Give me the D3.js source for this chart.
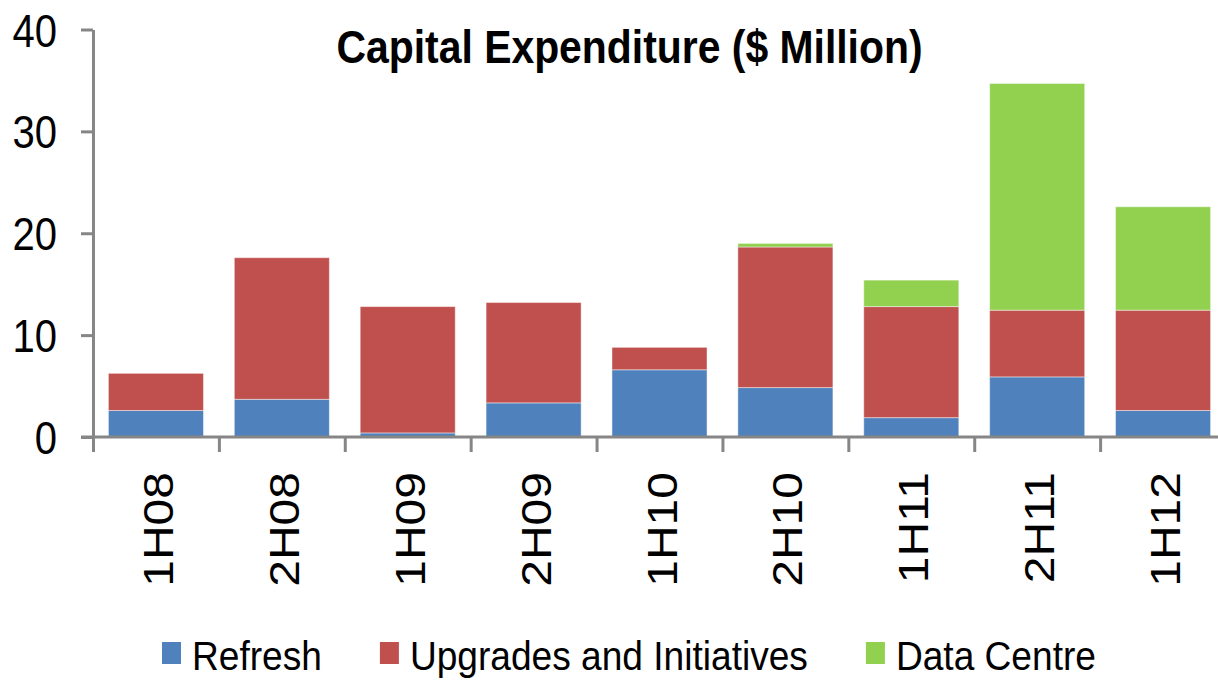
<!DOCTYPE html>
<html>
<head>
<meta charset="utf-8">
<script src="https://cdn.jsdelivr.net/npm/d3@7"></script>
<style>
  html, body { margin: 0; padding: 0; background: #fff; }
  svg { display: block; }
  text { font-family: "Liberation Sans", Arial, sans-serif; fill: #000; }
</style>
</head>
<body>
<svg id="chart" width="1218" height="680"></svg>
<script>
const categories = ["1H08", "2H08", "1H09", "2H09", "1H10", "2H10", "1H11", "2H11", "1H12"];
const seriesNames = ["Refresh", "Upgrades and Initiatives", "Data Centre"];
const refresh    = [2.6, 3.7, 0.4, 3.35, 6.6, 4.85, 1.9, 5.9, 2.6];
const upgrades   = [3.65, 13.9, 12.4, 9.85, 2.2, 13.8, 10.9, 6.55, 9.85];
const dataCentre = [0, 0, 0, 0, 0, 0.35, 2.6, 22.25, 10.15];
const yTicks = [0, 10, 20, 30, 40];
const colors = ["#4F81BD", "#C0504D", "#92D050"];
const titleText = "Capital Expenditure ($ Million)";

const SX = 0.87; // horizontal text compression of the reference
const svg = d3.select("#chart");

const rows = categories.map((c, i) => ({
  cat: c, "Refresh": refresh[i], "Upgrades and Initiatives": upgrades[i], "Data Centre": dataCentre[i]
}));
const stacked = d3.stack().keys(seriesNames)(rows);

const x = d3.scaleBand().domain(categories).range([93, 1226]).paddingInner(0.245).paddingOuter(0.1225);
const xEdge = d3.scaleLinear().domain([0, categories.length]).range([93, 1226]);
const y = d3.scaleLinear().domain([0, 40]).range([437, 29.5]);

// bars
svg.append("g").selectAll("g").data(stacked).join("g")
  .attr("fill", (d, i) => colors[i])
  .selectAll("rect").data(d => d.filter(s => s[1] - s[0] > 0)).join("rect")
  .attr("x", d => x(d.data.cat))
  .attr("width", x.bandwidth())
  .attr("y", d => y(d[1]))
  .attr("height", d => y(d[0]) - y(d[1]))
  .attr("stroke", "rgba(255,255,255,0.45)")
  .attr("stroke-width", 1);

// y axis
const yAxis = svg.append("g").attr("transform", "translate(93,0)")
  .call(d3.axisLeft(y).tickValues(yTicks).tickSize(12).tickSizeOuter(0).tickPadding(36));
yAxis.select(".domain").attr("stroke", "#868686").attr("stroke-width", 3);
yAxis.selectAll(".tick line").attr("stroke", "#868686").attr("stroke-width", 3);
yAxis.selectAll(".tick text")
  .attr("font-family", "Liberation Sans, Arial, sans-serif")
  .attr("font-size", 46)
  .attr("fill", "#000")
  .attr("dy", null)
  .attr("x", -36 / SX)
  .attr("y", 16.5)
  .attr("transform", `scale(${SX},1)`);

// x axis line + boundary ticks
const xAxis = svg.append("g").attr("transform", "translate(0,437)")
  .call(d3.axisBottom(xEdge).tickValues(d3.range(categories.length + 1)).tickSize(15).tickSizeOuter(0).tickFormat(""));
xAxis.select(".domain").attr("stroke", "#868686").attr("stroke-width", 3).attr("d", "M81,0H1226");
xAxis.selectAll(".tick line").attr("stroke", "#868686").attr("stroke-width", 3);

// x category labels (rotated)
const xLab = svg.append("g").attr("transform", "translate(0,437)")
  .call(d3.axisBottom(x).tickSize(0).tickSizeOuter(0));
xLab.select(".domain").remove();
xLab.selectAll(".tick text")
  .attr("font-family", "Liberation Sans, Arial, sans-serif")
  .attr("font-size", 48)
  .attr("fill", "#000")
  .attr("text-anchor", "end")
  .attr("dy", null)
  .attr("x", 0)
  .attr("y", 0)
  .attr("transform", `translate(17,35) scale(${SX},1) rotate(-90)`);

// title
svg.append("text")
  .attr("transform", `translate(629.5,63) scale(${SX},1)`)
  .attr("text-anchor", "middle")
  .attr("font-weight", "bold")
  .attr("font-size", 47)
  .text(titleText);

// legend
const LSX = 0.905;
const legend = svg.append("g");
let lx = 162;
seriesNames.forEach((name, i) => {
  legend.append("rect").attr("x", lx).attr("y", 642).attr("width", 19).attr("height", 22).attr("fill", colors[i]);
  const t = legend.append("text")
    .attr("transform", `translate(${lx + 30},670) scale(${LSX},1)`)
    .attr("font-size", 41)
    .text(name);
  const w = t.node().getBBox().width * LSX;
  lx = lx + 30 + w + 58;
});
</script>
</body>
</html>
